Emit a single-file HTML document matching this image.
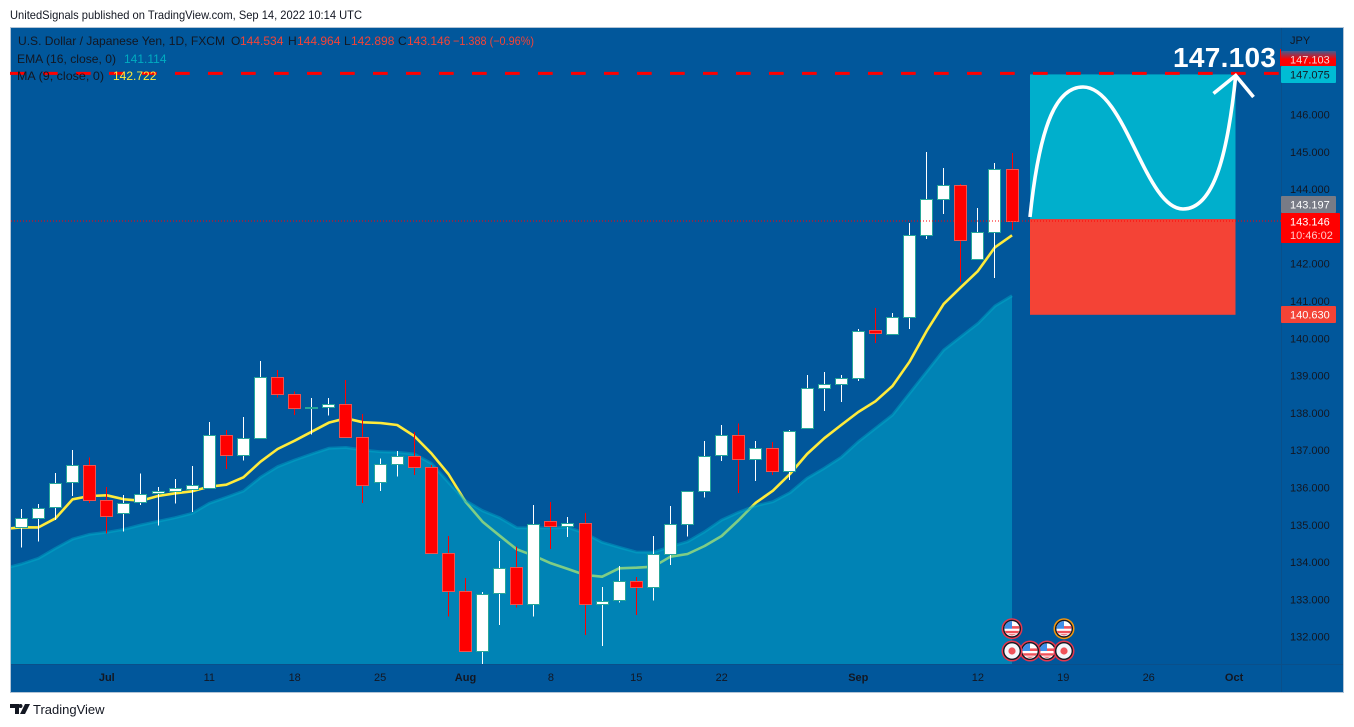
<!DOCTYPE html>
<html lang="en">
<head>
<meta charset="utf-8">
<title>USD/JPY chart</title>
<style>
html,body{margin:0;padding:0;background:#fff;width:1354px;height:727px;overflow:hidden}
svg{display:block;position:absolute;left:0;top:0}
text{font-family:"Liberation Sans",sans-serif}
</style>
</head>
<body>
<svg id="chart" width="1354" height="727" viewBox="0 0 1354 727" xmlns="http://www.w3.org/2000/svg">
  <defs>
    <clipPath id="pane-clip"><rect x="11" y="28" width="1270" height="636"/></clipPath>
    <linearGradient id="tag-fade" x1="0" y1="0" x2="0" y2="1">
      <stop offset="0" stop-color="#3f5d92"/><stop offset="0.55" stop-color="#ff0000"/><stop offset="1" stop-color="#ff0000"/>
    </linearGradient>
  </defs>
  <text x="10" y="19" font-size="12" fill="#131722" textLength="352" lengthAdjust="spacingAndGlyphs">UnitedSignals published on TradingView.com, Sep 14, 2022 10:14 UTC</text>
  <rect x="10.5" y="27.5" width="1333" height="665" fill="#01579b" stroke="#b2c4d6"/>
  <g id="pane" clip-path="url(#pane-clip)"></g>
  <line x1="1281.5" y1="28" x2="1281.5" y2="692" stroke="#0a4f8a"/>
  <line x1="11" y1="664.5" x2="1343" y2="664.5" stroke="#0a4f8a"/>
  <g id="price-axis"></g>
  <g id="time-axis"></g>
  <g id="tags"></g>
  <g id="overlay"></g>
  <g font-size="12">
    <text x="18" y="45" fill="#131722" textLength="207" lengthAdjust="spacingAndGlyphs">U.S. Dollar / Japanese Yen, 1D, FXCM</text>
    <text x="231" y="45" fill="#131722">O</text>
    <text x="240" y="45" fill="#f44336">144.534</text>
    <text x="288" y="45" fill="#131722">H</text>
    <text x="297" y="45" fill="#f44336">144.964</text>
    <text x="344" y="45" fill="#131722">L</text>
    <text x="351" y="45" fill="#f44336">142.898</text>
    <text x="398" y="45" fill="#131722">C</text>
    <text x="407" y="45" fill="#f44336">143.146</text>
    <text x="453" y="45" fill="#f44336" textLength="81" lengthAdjust="spacingAndGlyphs">−1.388 (−0.96%)</text>
    <text x="17" y="63" fill="#131722" textLength="99" lengthAdjust="spacingAndGlyphs">EMA (16, close, 0)</text>
    <text x="124" y="63" fill="#00acc1">141.114</text>
    <text x="17" y="80" fill="#131722" textLength="87" lengthAdjust="spacingAndGlyphs">MA (9, close, 0)</text>
    <text x="113" y="80" fill="#ffeb3b">142.722</text>
  </g>
  <g>
    <path d="M10 704h9v10h-4v-6h-5zM20.5 704a2 2 0 1 1 0 4a2 2 0 1 1 0-4zM25 704h5l-5 10h-5z" fill="#131722"/>
    <text x="33" y="714" font-size="13" fill="#131722">TradingView</text>
  </g>
</svg>
<script>
const opens = [134.93,135.17,135.47,136.14,136.59,135.66,135.31,135.60,135.85,135.90,135.97,135.98,137.42,136.86,137.34,138.96,138.50,138.12,138.15,138.23,137.35,136.14,136.64,136.85,136.54,134.25,133.23,131.61,133.16,133.86,132.87,135.09,134.96,135.06,132.87,132.98,133.48,133.32,134.23,135.01,135.90,136.86,137.42,136.76,137.07,136.44,137.59,138.68,138.78,138.94,140.22,140.11,140.56,142.78,143.74,144.10,142.12,142.84,144.534];
const highs = [135.42,135.56,136.39,137.00,136.81,136.01,135.80,136.38,136.01,136.23,136.58,137.76,137.54,137.89,139.39,139.15,138.58,138.40,138.40,138.88,137.97,136.78,136.98,137.49,136.60,134.70,133.57,133.20,134.57,134.42,135.53,135.61,135.21,135.31,133.33,133.90,133.60,134.70,135.50,135.90,137.25,137.68,137.72,137.25,137.22,137.54,139.02,139.10,139.02,140.25,140.81,140.68,143.09,145.00,144.57,144.14,143.49,144.70,144.964];
const lows = [134.39,134.55,135.13,135.77,135.58,134.77,134.82,135.53,134.98,135.57,135.35,135.98,136.50,136.72,137.30,138.41,137.94,137.42,137.93,137.33,135.59,135.91,136.29,136.34,134.24,132.54,131.60,131.27,132.31,132.78,132.54,134.35,134.68,132.05,131.75,132.91,132.58,132.97,133.92,134.68,135.73,136.71,135.85,136.17,136.34,136.20,137.59,138.05,138.29,138.86,139.87,140.11,140.25,142.66,143.33,141.51,142.12,141.62,142.898];
const closes = [135.17,135.46,136.13,136.59,135.66,135.23,135.59,135.83,135.90,135.98,136.06,137.42,136.86,137.34,138.96,138.50,138.12,138.15,138.23,137.35,136.06,136.64,136.85,136.54,134.25,133.23,131.61,133.15,133.85,132.87,135.03,134.96,135.06,132.87,132.97,133.48,133.32,134.23,135.01,135.90,136.85,137.42,136.76,137.07,136.44,137.51,138.68,138.78,138.94,140.20,140.13,140.56,142.78,143.74,144.10,142.63,142.84,144.53,143.146];
/* Indicator series begin one session before the first visible candle. */
const maValues = [134.888,134.933,134.93,135.174,135.684,135.772,135.791,135.684,135.646,135.772,135.845,135.898,136.022,136.075,136.274,136.692,137.032,137.255,137.496,137.738,137.855,137.748,137.729,137.676,137.381,136.917,136.362,135.619,135.083,134.708,134.343,134.172,133.968,133.815,133.654,133.609,133.834,133.85,133.877,134.145,134.217,134.432,134.70,135.129,135.593,135.914,136.362,136.898,137.319,137.676,138.024,138.311,138.721,139.373,140.196,140.92,141.368,141.804,142.44,142.762];
const emaValues = [133.834,133.949,134.102,134.37,134.619,134.745,134.799,134.879,134.995,135.094,135.19,135.308,135.577,135.737,135.906,136.274,136.558,136.737,136.898,137.051,137.073,137.005,136.96,136.944,136.898,136.649,136.14,135.646,135.378,135.19,134.922,134.914,134.914,134.933,134.772,134.531,134.397,134.271,134.263,134.413,134.547,134.815,135.129,135.335,135.512,135.619,135.861,136.247,136.515,136.81,137.228,137.587,137.944,138.526,139.105,139.686,140.043,140.397,140.866,141.142];
const priceTicks = [146,145,144,142,141,140,139,138,137,136,135,134,133,132];
const timeLabels = ["Jul","11","18","25","Aug","8","15","22","Sep","12","19","26","Oct"];
const timeSlots = [5,11,16,21,26,31,36,41,49,56,61,66,71];
const boldLabels = ["Jul","Aug","Sep","Oct"];
const targetPrice = 147.103;
const boxTopPrice = 147.075;
const entryPrice = 143.197;
const stopPrice = 140.630;
const lastPrice = 143.146;

const NS = 'http://www.w3.org/2000/svg';
function xScale(i){ return 21.4 + 17.08 * i; }
function yScale(p){ return 114.5 + (146 - p) * 37.3; }
function make(tag, attrs, parent){
  const el = document.createElementNS(NS, tag);
  for (const k in attrs) el.setAttribute(k, attrs[k]);
  parent.appendChild(el);
  return el;
}
function linePoints(values){
  return values.map(function(v,i){ return xScale(i-1).toFixed(2)+','+yScale(v).toFixed(2); }).join(' ');
}
const pane = document.getElementById('pane');

const maLine = make('polyline',{points:linePoints(maValues),fill:'none',stroke:'#ffeb3b','stroke-width':2.6,'stroke-linejoin':'round'},pane);



const lastX = xScale(emaValues.length-2).toFixed(2);
const firstX = xScale(-1).toFixed(2);
const emaArea = make('polygon',{points:linePoints(emaValues)+' '+lastX+',664 '+firstX+',664',fill:'#00afcf','fill-opacity':0.5},pane);


const emaLine = make('polyline',{points:linePoints(emaValues),fill:'none',stroke:'#00acc9','stroke-opacity':0.45,'stroke-width':3,'stroke-linejoin':'round'},pane);



opens.forEach(function(open,i){
  const close = closes[i];
  const up = close >= open;
  const cx = Math.floor(xScale(i));
  const g = make('g',{},pane);
  
  
  const wick = make('rect',{x:cx,y:yScale(highs[i]).toFixed(1),width:1,height:(yScale(lows[i])-yScale(highs[i])).toFixed(1),fill:up?'#ffffff':'#ff0000','shape-rendering':'crispEdges'},g);
  
  
  const top = Math.round(yScale(Math.max(open,close)));
  const bot = Math.round(yScale(Math.min(open,close)));
  const body = make('rect',{x:cx-5.5,y:top+0.5,width:12,height:Math.max(bot-top,1),fill:up?'#ffffff':'#ff0000',stroke:up?'#26a69a':'#ef5350','stroke-width':1,'shape-rendering':'crispEdges'},g);
  
  
});

const overlay = document.getElementById('overlay');
const boxLeft = 1030, boxRight = 1235.5;
const profitBox = make('rect',{x:boxLeft,y:yScale(boxTopPrice).toFixed(1),width:boxRight-boxLeft,height:(yScale(entryPrice)-yScale(boxTopPrice)).toFixed(1),fill:'#00afcc'},overlay);


const lossBox = make('rect',{x:boxLeft,y:yScale(entryPrice).toFixed(1),width:boxRight-boxLeft,height:(yScale(stopPrice)-yScale(entryPrice)).toFixed(1),fill:'#f44336'},overlay);



const targetLine = make('line',{x1:10,x2:1281,y1:yScale(targetPrice).toFixed(1),y2:yScale(targetPrice).toFixed(1),stroke:'#ff0000','stroke-width':3,'stroke-dasharray':'14.7 18.3'},overlay);


const lastLine = make('line',{x1:11,x2:1281,y1:yScale(lastPrice).toFixed(1),y2:yScale(lastPrice).toFixed(1),stroke:'#ff0000','stroke-width':1,'stroke-dasharray':'1 2'},overlay);



const curve = make('path',{d:'M1030 217C1040 120 1058 87 1083 87C1125 87 1145 209 1183 209C1215 209 1228 150 1235.7 76',fill:'none',stroke:'#ffffff','stroke-width':3.6},overlay);


const arrow = make('path',{d:'M1213.5 93.5L1235.7 75.5L1253.5 97',fill:'none',stroke:'#ffffff','stroke-width':3.6},overlay);


const targetText = make('text',{x:1173,y:67,'font-size':28,'font-weight':'bold',fill:'#ffffff',textLength:103},overlay);
targetText.textContent = targetPrice.toFixed(3);



const priceAxis = document.getElementById('price-axis');
priceTicks.forEach(function(p){
  const t = make('text',{x:1290,y:(yScale(p)+4).toFixed(1),'font-size':11,fill:'#131722'},priceAxis);
  t.textContent = p.toFixed(3);
  
  
});
const jpy = make('text',{x:1290,y:44,'font-size':11,fill:'#131722'},priceAxis);
jpy.textContent = 'JPY';



const timeAxis = document.getElementById('time-axis');
timeLabels.forEach(function(label,i){
  const t = make('text',{x:xScale(timeSlots[i]).toFixed(1),y:681,'font-size':11,fill:'#131722','text-anchor':'middle','font-weight':boldLabels.indexOf(label)>=0?'bold':'normal'},timeAxis);
  t.textContent = label;
  
  
});

const tags = document.getElementById('tags');
function tag(name,price,bg,fg,w,top,h){
  const r = make('rect',{x:1281,y:top,width:w,height:h,fill:bg,rx:1},tags);
  
  
  const t = make('text',{x:1290,y:top+12.5,'font-size':11,fill:fg},tags);
  t.textContent = price.toFixed(3);
  
  
}
tag('target',targetPrice,'url(#tag-fade)','#f2d9d9',55,51,15);
tag('box-top',boxTopPrice,'#00bcd4','#131722',55,66,17);
tag('entry',entryPrice,'#787b86','#ffffff',55,196,17);
tag('last',lastPrice,'#ff0000','#ffffff',59,213,30);
tag('stop',stopPrice,'#f44336','#ffffff',55,306,17);
const countdown = make('text',{x:1290,y:239,'font-size':11,fill:'#ffc9c9'},tags);
countdown.textContent = '10:46:02';


const tagMarker = make('rect',{x:1280,y:49,width:1,height:17,fill:'#ff0000'},tags);



const eventCx = [1012,1064,1047,1030,1012,1064];
const eventCy = [628.7,628.7,651,651,651,651];
const eventKinds = ['us','us','us','us','jp','jp'];
const eventRings = ['#e5384f','#f2960f','#e5384f','#e5384f','#e5384f','#e5384f'];
const events = make('g',{},document.getElementById('chart'));


eventCx.forEach(function(cx,i){
  const cy = eventCy[i];
  const g = make('g',{},events);
  
  
  make('circle',{cx:cx,cy:cy,r:10.5,fill:eventRings[i]},g);
  make('circle',{cx:cx,cy:cy,r:9,fill:'#131722'},g);
  if (eventKinds[i] === 'us') {
    make('circle',{cx:cx,cy:cy,r:7.6,fill:'#ffffff'},g);
    make('path',{d:'M'+(cx-7.2)+' '+(cy+2.2)+'h14.4a7.6 7.6 0 0 1-1.4 2.4h-11.6a7.6 7.6 0 0 1-1.4-2.4z',fill:'#f0525a'},g);
    make('path',{d:'M'+(cx-4)+' '+(cy+5.6)+'h8a7.6 7.6 0 0 1-8 0z',fill:'#f0525a'},g);
    make('path',{d:'M'+cx+' '+(cy-2.6)+'h7.4v2.6h-7.4z',fill:'#f0525a'},g);
    make('path',{d:'M'+cx+' '+(cy-7.6)+'v7.6h-7.5a7.6 7.6 0 0 1 7.5-7.6z',fill:'#3f8fe8'},g);
  } else {
    make('circle',{cx:cx,cy:cy,r:7.6,fill:'#f4f6fb'},g);
    make('circle',{cx:cx,cy:cy,r:3.6,fill:'#f0525a'},g);
  }
});
</script>
</body>
</html>
